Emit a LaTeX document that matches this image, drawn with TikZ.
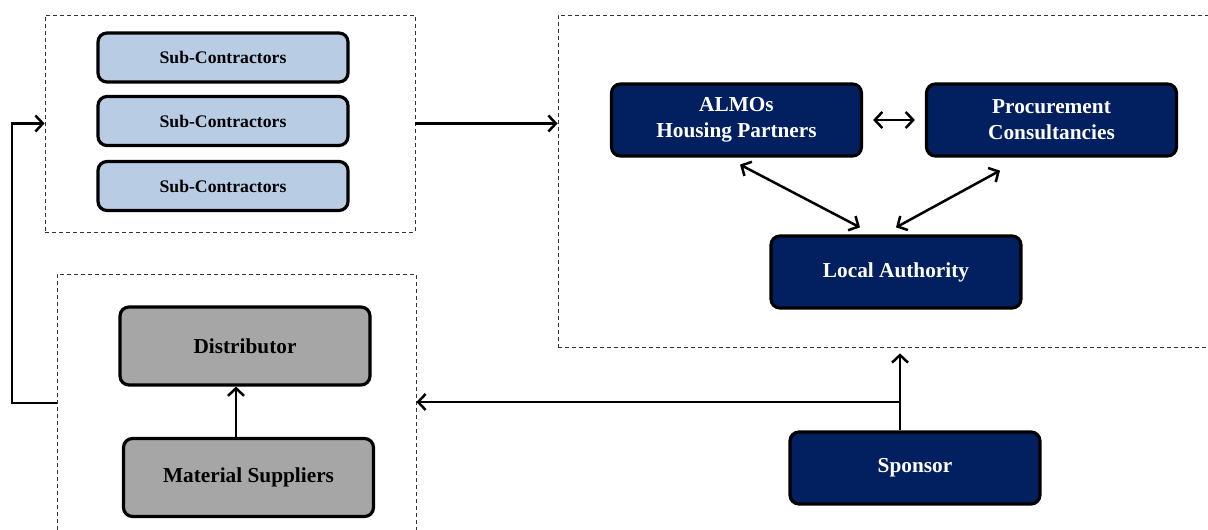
\documentclass[tikz,border=0pt]{standalone}
\usepackage{fontspec}
\setmainfont{Liberation Serif}
\usetikzlibrary{arrows.meta}
\definecolor{navy}{HTML}{022060}
\definecolor{lightblue}{HTML}{B8CCE4}
\definecolor{midgray}{HTML}{A6A6A6}
\tikzset{
  box/.style={draw=black, line width=3.2pt, rounded corners=9pt, minimum width=250pt, align=center, font=\bfseries\fontsize{21.3}{26}\selectfont},
  subbox/.style={box, fill=lightblue, minimum height=49pt, font=\bfseries\fontsize{17.7}{21}\selectfont},
  graybox/.style={box, fill=midgray, minimum height=78pt},
  navybox/.style={box, fill=navy, text=white, minimum height=72pt},
  group/.style={draw=black!80, line width=0.8pt, dash pattern=on 4pt off 3pt, inner sep=0pt},
  conn/.style={line width=2.5pt, -{Straight Barb[length=7.5pt,width=16pt,line width=2.5pt]}},
  bconn/.style={line width=2.5pt, {Straight Barb[length=7.5pt,width=16pt,line width=2.5pt]}-{Straight Barb[length=7.5pt,width=16pt,line width=2.5pt]}},
  plain/.style={line width=2.5pt}
}
\begin{document}
\begin{tikzpicture}[x=1pt,y=-1pt]
\useasboundingbox (0,0) rectangle (1208,530);
\begin{scope}
\clip (0,0) rectangle (1208,530);
% dashed groups
\node[group, minimum width=370pt, minimum height=217pt] (gA) at (230,123.5) {};
\node[group, minimum width=359pt, minimum height=290pt] (gB) at (236.5,419) {};
\node[group, minimum width=660pt, minimum height=332pt] (gC) at (888,181) {};
\end{scope}
% sub-contractors
\node[subbox] (s1) at (223,57.5) {Sub-Contractors};
\node[subbox] (s2) at (223,121) {Sub-Contractors};
\node[subbox] (s3) at (223,186) {Sub-Contractors};
% supply chain
\node[graybox] (dist) at (245,346) {Distributor};
\node[graybox] (mat) at (248.5,477.5) {Material Suppliers};
% client side
\node[navybox] (almo) at (736.5,120) {ALMOs\\Housing Partners};
\node[navybox] (proc) at (1051.5,120) {Procurement\\Consultancies};
\node[navybox] (la) at (896,272) {Local Authority};
\node[navybox] (sp) at (915,468) {Sponsor};
% connectors
\draw[conn] ([xshift=-12.5]mat.north) -- ([xshift=-12.5]mat.north |- dist.south);
\coordinate (fb) at (12,403);
\draw[conn] (fb -| gB.west) -- (fb) |- (gA.west);
\draw[conn] (gA.east) -- (gA.east -| gC.west);
\draw[bconn, shorten <=10pt, shorten >=10pt] (almo.east) -- (proc.west);
\draw[bconn] ([shift={(3.5,7)}]almo.south) -- ([shift={(-36,-7)}]la.north);
\draw[bconn] ([shift={(-51.5,13)}]proc.south) -- ([shift={(0,-7)}]la.north);
\coordinate (sn) at ([xshift=-15]sp.north);
\coordinate (sj) at (sn |- 0,402);
\draw[plain] (sn) -- (sj);
\draw[conn] (sj) -- (sj -| gB.east);
\draw[conn, shorten >=6pt] (sj) -- (sn |- gC.south);
\end{tikzpicture}
\end{document}
